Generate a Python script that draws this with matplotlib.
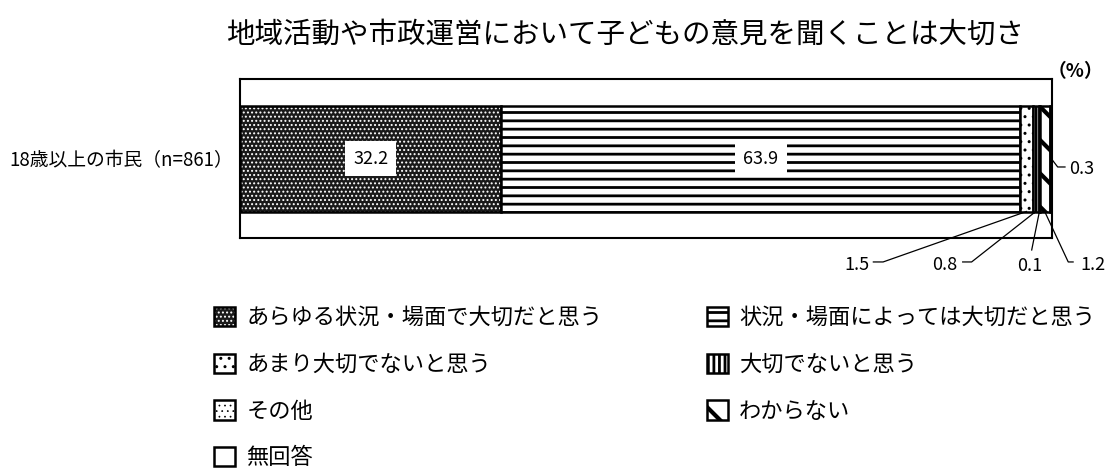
import matplotlib
matplotlib.use("Agg")
import matplotlib.pyplot as plt
from matplotlib.patches import Rectangle
from matplotlib.legend_handler import HandlerTuple, HandlerPatch

plt.rcParams["font.family"] = ["Noto Sans CJK JP", "DejaVu Sans"]
plt.rcParams["hatch.linewidth"] = 1.5

# データ
title = "地域活動や市政運営において子どもの意見を聞くことは大切さ"
category = "18歳以上の市民（n=861）"
labels = [
    "あらゆる状況・場面で大切だと思う",
    "状況・場面によっては大切だと思う",
    "あまり大切でないと思う",
    "大切でないと思う",
    "その他",
    "わからない",
    "無回答",
]
values = [32.2, 63.9, 1.5, 0.8, 0.1, 1.2, 0.3]

# 凡例の並び（左列 → 右列）
legend_order = [0, 2, 4, 6, 1, 3, 5]

# 各区分の塗り（地の色, ハッチ, ハッチの色, ハッチ線幅）
styles = [
    ("#1a1a1a", "....", "white", 0.9),
    ("white", "--", "black", 2.0),
    ("white", "..", "black", 1.0),
    ("white", "|||", "black", 2.0),
    ("white", "...", "black", 0.5),
    ("white", "\\", "black", 3.0),
    ("white", "", "black", 1.0),
]


# 凡例の見本にもハッチの線幅を引き継ぐ
def make_patch(legend, orig_handle, xdescent, ydescent, width, height, fontsize):
    p = Rectangle((-xdescent, -ydescent), width, height)
    if hasattr(orig_handle, "get_hatch_linewidth"):
        p.set_hatch_linewidth(orig_handle.get_hatch_linewidth())
    return p


fig = plt.figure(figsize=(11.1, 4.71), dpi=100)
ax = fig.add_axes([240 / 1110, (471 - 238) / 471, 812 / 1110, 159 / 471])

handles = []
left = 0
for val, (fc, hatch, hc, hlw) in zip(values, styles):
    base = ax.barh(0, val, left=left, height=1.0, color=fc, edgecolor="none")[0]
    hat = ax.barh(0, val, left=left, height=1.0, fill=False, hatch=hatch,
                  edgecolor=hc, linewidth=0)[0]
    if hasattr(hat, "set_hatch_linewidth"):
        hat.set_hatch_linewidth(hlw)
    edge = ax.barh(0, val, left=left, height=1.0, fill=False,
                   edgecolor="black", linewidth=1.8)[0]
    handles.append((base, hat, edge))
    left += val

ax.set_xlim(0, 100)
ax.set_ylim(-0.75, 0.75)
ax.set_xticks([])
ax.set_yticks([0], [category], fontsize=13.5)
ax.tick_params(axis="y", length=0, pad=5)
for sp in ax.spines.values():
    sp.set_linewidth(1.5)

# 棒の中の数値
starts = [sum(values[:i]) for i in range(len(values))]
centers = [s + v / 2 for s, v in zip(starts, values)]
for i in (0, 1):
    ax.text(centers[i], 0, f"{values[i]:.1f}", ha="center", va="center",
            fontsize=13,
            bbox=dict(boxstyle="square,pad=0.45", fc="white", ec="none"))

# 引き出し線つきの小さな数値
lkw = dict(color="black", linewidth=0.9, clip_on=False)
tkw = dict(fontsize=13, clip_on=False)

# 1.5
ax.plot([centers[2], 79.2, 78.0], [-0.5, -0.976, -0.976], **lkw)
ax.text(76.0, -1.0, f"{values[2]}", ha="center", va="center", **tkw)
# 0.8
ax.plot([centers[3], 90.1, 89.0], [-0.5, -0.976, -0.976], **lkw)
ax.text(86.8, -1.0, f"{values[3]}", ha="center", va="center", **tkw)
# 0.1
ax.plot([centers[4], 97.5], [-0.5, -0.863], **lkw)
ax.text(97.3, -1.01, f"{values[4]}", ha="center", va="center", **tkw)
# 1.2
ax.plot([centers[5], 102.0, 102.6], [-0.5, -0.976, -0.976], **lkw)
ax.text(105.0, -1.0, f"{values[5]}", ha="center", va="center", **tkw)
# 0.3
ax.plot([100.0, 100.7, 101.6], [-0.01, -0.08, -0.08], **lkw)
ax.text(103.6, -0.1, f"{values[6]}", ha="center", va="center", **tkw)

fig.text(625 / 1110, 1 - 35 / 471, title, ha="center", va="center", fontsize=20.5)
fig.text(1075 / 1110, 1 - 72 / 471, "（%）", ha="center", va="center",
         fontsize=13.5, fontweight="bold")

fig.legend(
    [handles[i] for i in legend_order],
    [labels[i] for i in legend_order],
    handler_map={tuple: HandlerTuple(ndivide=1),
                 Rectangle: HandlerPatch(patch_func=make_patch)},
    ncol=2,
    loc="upper left",
    bbox_to_anchor=(214 / 1110, 1 - 306 / 471),
    frameon=False,
    fontsize=16,
    handlelength=0.95,
    handleheight=0.95,
    handletextpad=0.5,
    labelspacing=1.07,
    columnspacing=4.7,
    borderpad=0,
    borderaxespad=0,
)

fig.savefig("out.png", dpi=100)
